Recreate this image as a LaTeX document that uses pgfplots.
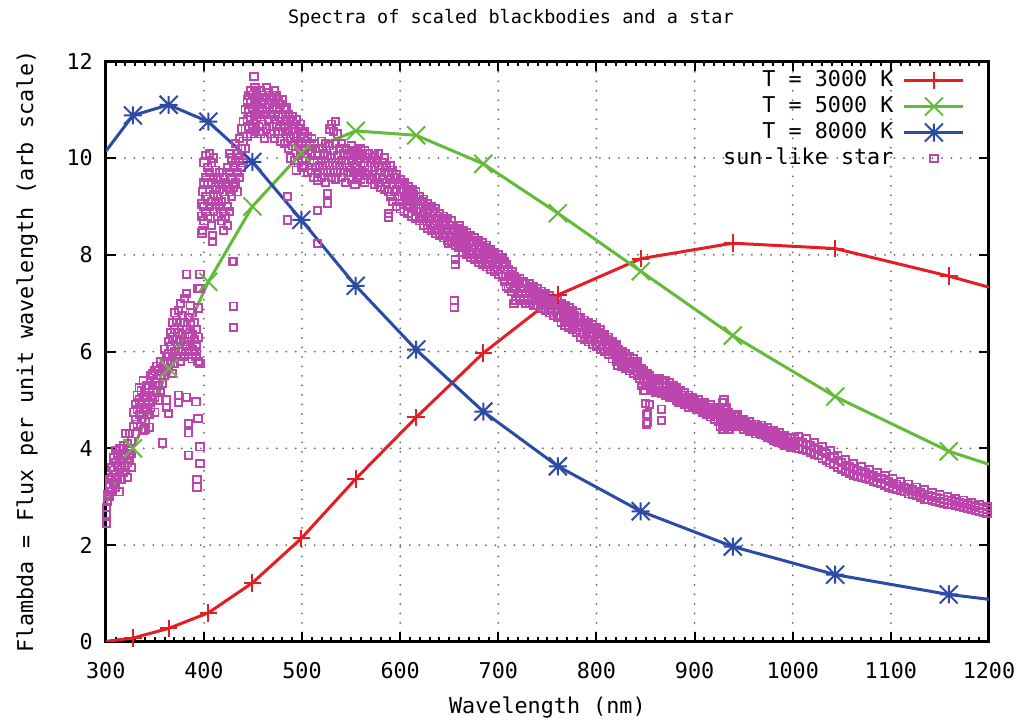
\documentclass[border=0pt]{standalone}
\usepackage{fontspec}
\usepackage{pgfplots}
\pgfplotsset{compat=1.18}
\usetikzlibrary{plotmarks}
\setmainfont{DejaVu Sans Mono}
\newcommand\gpfont{\fontsize{8.7}{10}\selectfont}
\newcommand\gptitle{\fontsize{7.4}{9}\selectfont}
\definecolor{gpred}{HTML}{E41E24}
\definecolor{gpgreen}{HTML}{64BB3A}
\definecolor{gpblue}{HTML}{2C4BA6}
\definecolor{gpmag}{HTML}{BC46AE}

% gnuplot style point types
\pgfdeclareplotmark{gplus}{%
  \pgfpathmoveto{\pgfqpoint{-\pgfplotmarksize}{0pt}}\pgfpathlineto{\pgfqpoint{\pgfplotmarksize}{0pt}}%
  \pgfpathmoveto{\pgfqpoint{0pt}{-\pgfplotmarksize}}\pgfpathlineto{\pgfqpoint{0pt}{\pgfplotmarksize}}%
  \pgfusepathqstroke}
\pgfdeclareplotmark{gcross}{%
  \pgfpathmoveto{\pgfqpoint{-\pgfplotmarksize}{-\pgfplotmarksize}}\pgfpathlineto{\pgfqpoint{\pgfplotmarksize}{\pgfplotmarksize}}%
  \pgfpathmoveto{\pgfqpoint{-\pgfplotmarksize}{\pgfplotmarksize}}\pgfpathlineto{\pgfqpoint{\pgfplotmarksize}{-\pgfplotmarksize}}%
  \pgfusepathqstroke}
\pgfdeclareplotmark{gstar}{%
  \pgfpathmoveto{\pgfqpoint{-\pgfplotmarksize}{0pt}}\pgfpathlineto{\pgfqpoint{\pgfplotmarksize}{0pt}}%
  \pgfpathmoveto{\pgfqpoint{0pt}{-\pgfplotmarksize}}\pgfpathlineto{\pgfqpoint{0pt}{\pgfplotmarksize}}%
  \pgfpathmoveto{\pgfqpoint{-\pgfplotmarksize}{-\pgfplotmarksize}}\pgfpathlineto{\pgfqpoint{\pgfplotmarksize}{\pgfplotmarksize}}%
  \pgfpathmoveto{\pgfqpoint{-\pgfplotmarksize}{\pgfplotmarksize}}\pgfpathlineto{\pgfqpoint{\pgfplotmarksize}{-\pgfplotmarksize}}%
  \pgfusepathqstroke}

\begin{document}
\begin{tikzpicture}
\begin{axis}[
    scale only axis,
    width=353.2pt, height=232.2pt,
    xmin=300, xmax=1200, ymin=0, ymax=12,
    xtick={300,400,...,1200}, ytick={0,2,...,12},
    minor x tick num=9,
    tick align=inside,
    major tick length=4pt, minor tick length=2pt,
    tick style={black, line width=0.8pt},
    axis line style={line width=1.2pt},
    grid=major,
    major grid style={black!60, line width=0.8pt, dash pattern=on 0pt off 3.8pt, line cap=round},
    ticklabel style={font=\gpfont},
    /pgf/number format/assume math mode=true,
    /pgf/number format/1000 sep={},
    xticklabel style={inner sep=0pt, yshift=-8pt},
    yticklabel style={inner sep=0pt, xshift=-5pt},
    legend style={draw=none, fill=none, font=\gpfont, at={(1,1)}, anchor=north east,
        xshift=-9.4pt, yshift=-2.3pt, inner sep=0pt, row sep=0pt, column sep=2.8pt,
        nodes={inner sep=1pt, text height=6.4pt, text depth=2pt}},
    legend cell align=right,
    legend plot pos=right,
    legend image code/.code={\draw[mark repeat=2,mark phase=2] plot coordinates {(0cm,0cm)(0.415cm,0cm)(0.83cm,0cm)};},
]

% sun-like star (drawn first, lines go on top)
\addplot[only marks, mark=square, mark size=1.45pt, gpmag, line width=0.75pt, forget plot] coordinates {
(301,2.45)(301,2.64)(301,2.77)(302,2.9)(302,3.05)(304,3.0)(304,3.2)(304,3.35)(306,3.1)(306,3.4)(306,3.6)
(308,3.3)(308,3.55)(308,3.8)(310,3.2)(310,3.45)(310,3.7)(310,3.95)(312,3.4)(312,3.65)(312,3.9)
(314,3.1)(314,3.5)(314,3.75)(314,4.0)(316,3.35)(316,3.6)(316,3.85)(318,3.5)(318,3.8)(318,4.05)
(320,3.55)(320,3.9)(320,4.31)(322,3.4)(322,3.7)(322,4.1)(324,3.8)(324,4.0)(324,4.31)(326,3.6)(326,3.9)(326,4.15)
(328,4.45)(328,4.75)(330,4.3)(330,4.6)(330,4.9)(332,4.5)(332,4.8)(332,5.1)(334,4.7)(334,5.0)(334,5.25)
(336,4.6)(336,4.9)(336,5.2)(338,4.38)(338,4.75)(338,5.05)(338,5.4)(340,4.4)(340,4.55)(340,4.85)(340,5.15)
(342,4.8)(342,5.1)(342,5.3)(344,4.44)(344,4.7)(344,4.95)(344,5.25)(346,4.85)(346,5.1)(346,5.5)
(348,5.0)(348,5.3)(348,5.55)(350,4.75)(350,5.05)(350,5.35)(350,5.6)(352,5.15)(352,5.45)(352,5.7)
(354,5.0)(354,5.3)(354,5.6)(356,5.2)(356,5.5)(356,5.8)(358,4.11)(358,5.35)(358,5.65)
(360,5.5)(360,5.8)(360,6.05)(362,4.85)(362,5.0)(362,5.6)(362,5.9)
(364,4.72)(364,5.65)(364,5.95)(364,6.2)(366,5.8)(366,6.1)(366,6.4)(368,5.55)(368,5.9)(368,6.3)(368,6.6)
(370,5.75)(370,6.0)(370,6.45)(370,6.8)(372,5.9)(372,6.25)(372,6.65)(374,4.95)(374,5.1)(374,6.05)(374,6.4)(374,6.85)
(376,5.8)(376,6.2)(376,6.6)(376,7.0)(378,6.0)(378,6.35)(378,6.75)(380,5.9)(380,6.2)(380,6.6)(380,7.1)
(382,5.06)(382,6.1)(382,6.45)(382,7.2)(382,7.6)(384,3.86)(384,4.32)(384,4.52)(384,5.95)(384,6.3)(384,6.7)
(386,6.15)(386,6.55)(386,6.95)(388,5.85)(388,6.05)(388,6.35)(388,6.8)(390,6.0)(390,6.25)(390,6.6)
(392,4.96)(392,5.9)(392,6.1)(392,6.45)(393,3.36)(393,3.2)(394,4.62)(394,5.8)(394,6.3)(394,6.9)(394,7.3)
(396,4.03)(396,3.69)(396,5.75)(396,7.6)(396,7.3)
(398,8.45)(398,8.8)(398,9.05)(399,8.5)(399,9.3)(400,8.7)(400,9.0)(400,9.5)(400,9.9)
(402,8.9)(402,9.2)(402,9.6)(402,10.05)(404,8.8)(404,9.15)(404,9.45)(404,9.8)(406,9.0)(406,9.35)(406,9.7)(406,10.1)
(408,8.6)(408,9.1)(408,9.5)(408,9.9)(409,8.28)(409,8.4)(410,8.9)(410,9.25)(410,9.6)(410,10.0)
(412,9.05)(412,9.4)(412,9.75)(414,8.8)(414,9.2)(414,9.55)(416,9.0)(416,9.35)(416,9.7)
(418,8.7)(418,9.1)(418,9.45)(420,8.5)(420,8.9)(420,9.3)(420,9.6)(422,8.8)(422,9.15)(422,9.5)
(424,8.6)(424,9.0)(424,9.4)(424,9.8)(426,8.9)(426,9.3)(426,9.7)(426,10.1)(428,9.2)(428,9.6)(428,10.0)
(429,7.86)(430,7.87)(430,6.94)(430,6.5)(430,9.4)(430,9.8)(432,9.5)(432,9.9)(432,10.3)
(434,9.3)(434,9.7)(434,10.1)(436,9.6)(436,10.0)(436,10.4)(438,9.8)(438,10.2)(438,10.6)
(440,9.9)(440,10.35)(440,10.75)(442,10.2)(442,10.6)(442,11.0)(444,10.45)(444,10.8)(444,11.2)
(446,10.6)(446,10.95)(446,11.3)(448,10.5)(448,10.85)(448,11.15)(448,11.4)(450,10.7)(450,11.0)(450,11.3)
(451,11.69)(452,10.55)(452,10.9)(452,11.2)(452,11.45)(454,10.8)(454,11.1)(454,11.35)
(456,10.65)(456,10.95)(456,11.25)(458,10.5)(458,10.85)(458,11.15)(458,11.4)(460,10.7)(460,11.0)(460,11.3)
(462,10.4)(462,10.9)(462,11.2)(464,10.6)(464,10.95)(464,11.25)(464,11.45)(466,10.8)(466,11.1)(466,11.35)
(468,10.5)(468,10.9)(468,11.2)(470,10.65)(470,11.0)(470,11.3)(472,10.4)(472,10.8)(472,11.15)(472,11.4)
(474,10.7)(474,11.05)(474,11.3)(476,10.5)(476,10.85)(476,11.2)(478,10.35)(478,10.75)(478,11.1)
(480,10.55)(480,10.9)(480,11.2)(482,10.3)(482,10.7)(482,11.0)(484,10.5)(484,10.8)(484,11.05)
(485,9.2)(485,8.72)(486,10.2)(486,10.6)(486,10.9)(488,10.0)(488,10.4)(488,10.75)(490,10.25)(490,10.6)(490,10.85)
(492,9.95)(492,10.35)(492,10.7)(494,9.75)(494,10.1)(494,10.45)(494,10.8)(496,9.9)(496,10.25)(496,10.6)
(498,10.1)(498,10.4)(498,10.7)(500,9.8)(500,10.15)(500,10.5)
(502,9.85)(502,10.2)(502,10.55)(504,10.0)(504,10.35)(506,9.7)(506,10.1)(506,10.45)(508,9.9)(508,10.25)
(510,9.75)(510,10.1)(510,10.4)(512,9.6)(512,9.95)(512,10.3)(514,9.8)(514,10.2)
(516,9.54)(516,8.92)(516,8.24)(516,9.7)(516,10.05)(518,9.85)(518,10.2)(520,9.6)(520,9.95)(520,10.35)
(522,9.75)(522,10.1)(524,9.5)(524,9.9)(524,10.3)(526,9.07)(526,9.27)(526,9.7)(526,10.05)
(528,9.85)(528,10.25)(528,10.6)(530,9.6)(530,10.0)(530,10.7)(532,9.75)(532,10.15)(532,10.55)
(534,9.55)(534,9.9)(534,10.3)(534,10.75)(536,9.7)(536,10.05)(536,10.5)(538,9.85)(538,10.2)
(540,9.6)(540,9.95)(540,10.3)(542,9.75)(542,10.1)(544,9.5)(544,9.9)(544,10.2)(546,9.7)(546,10.05)
(548,9.8)(548,10.15)(550,9.55)(550,9.95)(550,10.25)(552,9.7)(552,10.05)(554,9.45)(554,9.85)(554,10.15)
(556,9.65)(556,10.0)(558,9.75)(558,10.1)(560,9.55)(560,9.9)(560,10.2)(562,9.7)(562,10.05)
(564,9.5)(564,9.85)(564,10.15)(566,9.65)(566,10.0)(568,9.75)(568,10.1)(570,9.55)(570,9.9)
(572,9.65)(572,10.0)(574,9.45)(574,9.8)(574,10.05)(576,9.6)(576,9.95)(578,9.5)(578,9.85)(578,10.1)
(580,9.4)(580,9.75)(582,9.55)(582,9.9)(584,9.35)(584,9.7)(584,10.0)(586,9.5)(586,9.8)
(588,8.86)(588,8.78)(588,9.3)(588,9.65)(590,9.2)(590,9.55)(590,9.85)
(592,9.1)(592,9.45)(592,9.75)(594,9.3)(594,9.6)(596,9.0)(596,9.35)(596,9.65)(598,9.2)(598,9.5)
(600,8.95)(600,9.3)(600,9.55)(602,9.15)(602,9.45)(604,8.9)(604,9.2)(604,9.5)(606,9.05)(606,9.35)
(608,8.85)(608,9.15)(608,9.4)(610,9.0)(610,9.3)(612,8.8)(612,9.1)(612,9.35)(614,8.95)(614,9.25)
(616,8.75)(616,9.05)(616,9.3)(618,8.9)(618,9.15)(620,8.7)(620,8.95)(620,9.2)(622,8.8)(622,9.1)
(624,8.6)(624,8.9)(624,9.15)(626,8.75)(626,9.0)(628,8.55)(628,8.85)(628,9.05)(630,8.7)(630,8.95)
(632,8.5)(632,8.8)(632,9.0)(634,8.6)(634,8.9)(636,8.45)(636,8.7)(636,8.95)(638,8.55)(638,8.8)
(640,8.4)(640,8.65)(640,8.85)(642,8.5)(642,8.75)(644,8.35)(644,8.6)(644,8.8)(646,8.45)(646,8.7)
(648,8.3)(648,8.55)(648,8.75)(649,8.23)(650,8.4)(650,8.6)(652,8.25)(652,8.5)(652,8.7)(654,8.35)(654,8.6)
(655,6.92)(655,7.06)(656,7.8)(656,7.9)(656,8.2)(656,8.45)(658,8.3)(658,8.55)(660,8.15)(660,8.4)(660,8.6)
(662,8.2)(662,8.45)(664,8.05)(664,8.3)(664,8.5)(666,8.15)(666,8.4)(668,8.0)(668,8.25)(668,8.45)
(670,8.1)(670,8.35)(672,7.95)(672,8.2)(672,8.4)(674,8.05)(674,8.3)(676,7.9)(676,8.15)(676,8.35)
(678,8.0)(678,8.25)(680,7.85)(680,8.1)(680,8.3)(682,7.95)(682,8.2)(684,7.8)(684,8.05)(684,8.25)
(686,7.9)(686,8.15)(688,7.75)(688,8.0)(688,8.2)(690,7.85)(690,8.1)(692,7.7)(692,7.95)(692,8.1)
(694,7.8)(694,8.0)(696,7.65)(696,7.9)(696,8.05)(698,7.75)(698,7.95)(700,7.6)(700,7.85)(700,8.0)
(702,7.7)(702,7.9)(704,7.55)(704,7.8)(704,7.95)(706,7.45)(706,7.7)(706,7.85)(708,7.35)(708,7.6)(708,7.8)
(710,7.3)(710,7.55)(710,7.7)(712,7.4)(712,7.6)(714,7.25)(714,7.5)(714,7.65)(716,7.0)(716,7.35)(716,7.55)
(718,7.05)(718,7.3)(718,7.5)(720,7.2)(720,7.45)(722,7.1)(722,7.35)(722,7.5)(724,7.2)(724,7.4)
(726,7.05)(726,7.3)(726,7.45)(728,7.0)(728,7.2)(728,7.4)(730,7.1)(730,7.3)(732,7.0)(732,7.25)(732,7.4)
(734,7.1)(734,7.3)(736,6.95)(736,7.2)(736,7.35)(738,7.05)(738,7.25)(740,6.95)(740,7.15)(740,7.3)
(742,7.05)(742,7.2)(744,6.9)(744,7.1)(744,7.25)(746,7.0)(746,7.15)(748,6.85)(748,7.05)(748,7.2)
(750,6.95)(750,7.1)(752,6.8)(752,7.0)(752,7.15)(754,6.9)(754,7.05)(756,6.75)(756,6.95)(756,7.1)
(758,6.85)(758,7.0)(760,6.7)(760,6.9)(760,7.05)
(762,6.75)(762,6.95)(764,6.6)(764,6.85)(764,7.0)(766,6.7)(766,6.9)(768,6.55)(768,6.8)(768,6.95)
(770,6.65)(770,6.85)(772,6.5)(772,6.75)(772,6.9)(774,6.6)(774,6.8)(776,6.45)(776,6.7)(776,6.85)
(778,6.55)(778,6.75)(780,6.4)(780,6.65)(780,6.8)(782,6.5)(782,6.7)(784,6.3)(784,6.55)(784,6.7)
(786,6.4)(786,6.6)(788,6.25)(788,6.5)(788,6.65)(790,6.35)(790,6.55)(792,6.2)(792,6.45)(792,6.6)
(794,6.3)(794,6.5)(796,6.15)(796,6.4)(796,6.55)(798,6.25)(798,6.45)(800,6.1)(800,6.35)(800,6.5)
(802,6.2)(802,6.4)(804,6.05)(804,6.3)(804,6.45)(806,6.15)(806,6.35)(808,6.0)(808,6.2)(808,6.35)
(810,6.1)(810,6.25)(812,5.95)(812,6.15)(812,6.3)(814,6.0)(814,6.2)(816,5.85)(816,6.05)(816,6.2)
(818,5.95)(818,6.1)(820,5.8)(820,6.0)(820,6.15)(822,5.72)(822,5.9)(822,6.05)(824,5.8)(824,5.95)
(826,5.7)(826,5.9)(826,6.0)(828,5.75)(828,5.9)(830,5.65)(830,5.85)(830,5.95)(832,5.7)(832,5.85)
(834,5.6)(834,5.8)(834,5.9)(836,5.65)(836,5.8)(838,5.55)(838,5.75)(838,5.85)(840,5.6)(840,5.75)
(842,5.5)(842,5.7)(842,5.8)(844,5.45)(844,5.65)(846,5.3)(846,5.5)(846,5.65)(848,5.2)(848,5.4)(848,5.6)
(849,5.2)(850,4.93)(850,5.3)(850,5.5)(851,4.7)(851,4.5)(852,4.71)(852,4.53)(852,5.35)(852,5.55)
(854,4.91)(854,5.3)(854,5.5)(856,5.25)(856,5.45)(858,5.2)(858,5.4)(860,5.15)(860,5.35)(860,5.45)
(862,5.2)(862,5.4)(864,5.15)(864,5.3)(864,5.45)(866,5.13)(866,4.58)(866,4.81)(868,5.15)(868,5.35)
(870,5.1)(870,5.25)(870,5.4)(872,5.15)(872,5.3)(874,5.05)(874,5.2)(874,5.35)(876,5.1)(876,5.3)
(878,5.05)(878,5.2)(878,5.3)(880,5.05)(880,5.25)(882,5.0)(882,5.15)(882,5.25)(884,4.95)(884,5.15)
(886,4.95)(886,5.1)(886,5.2)(888,4.95)(888,5.1)(890,4.9)(890,5.05)(890,5.15)(892,4.9)(892,5.05)
(894,4.85)(894,5.0)(894,5.1)(896,4.9)(896,5.05)(898,4.85)(898,4.95)(898,5.05)(900,4.85)(900,5.0)
(902,4.8)(902,4.95)(904,4.8)(904,4.9)(904,5.0)(906,4.8)(906,4.95)(908,4.75)(908,4.9)
(910,4.75)(910,4.85)(910,4.95)(912,4.7)(912,4.85)(914,4.7)(914,4.8)(916,4.65)(916,4.8)(916,4.9)
(918,4.7)(918,4.8)(920,4.6)(920,4.75)(920,4.85)(922,4.65)(922,4.8)(924,4.55)(924,4.7)(924,4.85)
(926,4.45)(926,4.6)(926,4.85)(928,4.4)(928,4.55)(928,4.75)(928,4.95)(930,4.4)(930,4.6)(930,4.8)(930,5.0)
(932,4.45)(932,4.65)(932,4.85)(934,4.4)(934,4.55)(934,4.75)(936,4.4)(936,4.6)(936,4.7)(938,4.45)(938,4.65)
(940,4.45)(940,4.6)(940,4.7)(942,4.5)(942,4.65)(944,4.45)(944,4.6)(944,4.7)(946,4.5)(946,4.6)
(948,4.45)(948,4.55)(950,4.4)(950,4.5)(950,4.6)(952,4.45)(952,4.55)(954,4.4)(954,4.5)
(956,4.35)(956,4.45)(956,4.55)(958,4.4)(958,4.5)(960,4.35)(960,4.45)(962,4.3)(962,4.4)(962,4.5)
(964,4.35)(964,4.45)(966,4.3)(966,4.42)(968,4.28)(968,4.38)(968,4.48)(970,4.3)(970,4.4)
(972,4.27)(972,4.37)(974,4.22)(974,4.33)(974,4.43)(976,4.25)(976,4.35)(978,4.2)(978,4.3)
(980,4.17)(980,4.27)(980,4.37)(982,4.2)(982,4.3)(984,4.15)(984,4.25)(986,4.12)(986,4.22)(986,4.32)
(988,4.15)(988,4.25)(990,4.1)(990,4.2)(992,4.07)(992,4.17)(992,4.27)(994,4.1)(994,4.2)
(996,4.05)(996,4.15)(998,4.02)(998,4.12)(998,4.22)(1000,4.05)(1000,4.15)
(1002,4.05)(1002,4.2)(1006,4.0)(1006,4.15)(1006,4.25)(1010,3.98)(1010,4.12)(1014,3.95)(1014,4.08)(1014,4.2)
(1018,3.92)(1018,4.05)(1022,3.88)(1022,4.02)(1022,4.12)(1026,3.85)(1026,3.98)(1030,3.8)(1030,3.94)(1030,4.04)
(1034,3.76)(1034,3.9)(1038,3.7)(1038,3.84)(1038,3.95)(1042,3.66)(1042,3.8)(1046,3.6)(1046,3.74)(1046,3.85)
(1050,3.56)(1050,3.7)(1054,3.52)(1054,3.65)(1054,3.76)(1058,3.48)(1058,3.62)(1062,3.45)(1062,3.58)(1062,3.68)
(1066,3.42)(1066,3.55)(1070,3.4)(1070,3.52)(1070,3.62)(1074,3.38)(1074,3.5)(1078,3.35)(1078,3.46)(1078,3.56)
(1082,3.32)(1082,3.44)(1086,3.3)(1086,3.4)(1086,3.5)(1090,3.27)(1090,3.38)(1094,3.24)(1094,3.35)(1094,3.44)
(1098,3.2)(1098,3.32)(1102,3.18)(1102,3.28)(1102,3.38)(1106,3.15)(1106,3.26)(1110,3.12)(1110,3.22)(1110,3.32)
(1114,3.1)(1114,3.2)(1118,3.06)(1118,3.16)(1118,3.26)(1122,3.04)(1122,3.14)(1126,3.02)(1126,3.1)(1126,3.2)
(1130,2.98)(1130,3.08)(1134,2.95)(1134,3.05)(1134,3.14)(1138,2.94)(1138,3.02)(1142,2.92)(1142,3.0)(1142,3.08)
(1146,2.9)(1146,2.98)(1150,2.88)(1150,2.96)(1150,3.04)(1154,2.87)(1154,2.95)(1158,2.85)(1158,2.93)(1158,3.0)
(1162,2.84)(1162,2.92)(1166,2.82)(1166,2.9)(1166,2.97)(1170,2.8)(1170,2.88)(1174,2.78)(1174,2.86)(1174,2.93)
(1178,2.76)(1178,2.84)(1182,2.74)(1182,2.82)(1182,2.88)(1186,2.72)(1186,2.8)(1190,2.7)(1190,2.77)(1190,2.84)
(1194,2.68)(1194,2.75)(1198,2.66)(1198,2.73)(1198,2.8)
};

% T = 3000 K
\addplot[gpred, line width=1.2pt, mark=gplus, mark size=3.5pt, mark options={line width=0.8pt}] coordinates {
(327.7,0.08)(364.1,0.28)(404.5,0.60)(449.4,1.22)(499.3,2.14)(554.7,3.37)(616.3,4.64)
(684.7,5.97)(760.7,7.17)(845.1,7.92)(938.9,8.24)(1043.2,8.13)(1159,7.56)};
\addplot[gpred, line width=1.2pt, forget plot] coordinates {(300,0.01)(327.7,0.08)};
\addplot[gpred, line width=1.2pt, forget plot] coordinates {(1159,7.56)(1200,7.33)};

% T = 5000 K
\addplot[gpgreen, line width=1.2pt, mark=gcross, mark size=3.6pt, mark options={line width=0.8pt}] coordinates {
(327.7,4.0)(364.1,5.65)(404.5,7.44)(449.4,9.0)(499.3,10.1)(554.7,10.56)(616.3,10.47)
(684.7,9.88)(760.7,8.86)(845.1,7.66)(938.9,6.33)(1043.2,5.07)(1159,3.94)};
\addplot[gpgreen, line width=1.2pt, forget plot] coordinates {(300,2.86)(327.7,4.0)};
\addplot[gpgreen, line width=1.2pt, forget plot] coordinates {(1159,3.94)(1200,3.67)};

% T = 8000 K
\addplot[gpblue, line width=1.2pt, mark=gstar, mark size=3.6pt, mark options={line width=0.8pt}] coordinates {
(327.7,10.88)(364.1,11.10)(404.5,10.75)(449.4,9.92)(499.3,8.72)(554.7,7.36)(616.3,6.04)
(684.7,4.76)(760.7,3.63)(845.1,2.70)(938.9,1.97)(1043.2,1.39)(1159,0.98)};
\addplot[gpblue, line width=1.2pt, forget plot] coordinates {(300,10.14)(327.7,10.88)};
\addplot[gpblue, line width=1.2pt, forget plot] coordinates {(1159,0.98)(1200,0.88)};

\addlegendimage{only marks, mark=square, mark size=1.45pt, gpmag, line width=0.75pt}
\legend{T = 3000 K, T = 5000 K, T = 8000 K, sun-like star}
\end{axis}

\node[font=\gptitle, anchor=base] at ([xshift=-14.6pt, yshift=14.9pt]current axis.north) {Spectra of scaled blackbodies and a star};
\node[font=\gpfont, anchor=base] at ([yshift=-28.5pt]current axis.south) {Wavelength (nm)};
\node[font=\gpfont, anchor=base, rotate=90] at ([xshift=-29.1pt]current axis.west) {Flambda = Flux per unit wavelength (arb scale)};

\pgfresetboundingbox
\path[use as bounding box] ([xshift=-42.3pt, yshift=-32.1pt]current axis.south west) rectangle ([xshift=14pt, yshift=24.5pt]current axis.north east);
\end{tikzpicture}
\end{document}
